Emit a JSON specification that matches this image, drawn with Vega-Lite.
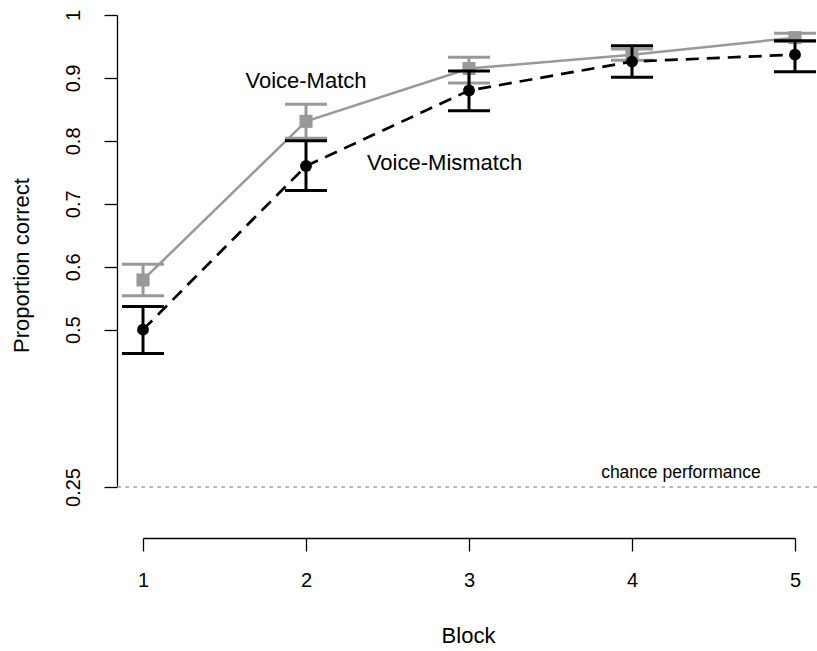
{
  "$schema": "https://vega.github.io/schema/vega-lite/v6.json",
  "width": 700,
  "height": 506,
  "autosize": {"type": "none"},
  "padding": {"left": 117, "top": 0, "right": 0, "bottom": 145},
  "background": "white",
  "config": {"view": {"stroke": null}, "font": "Liberation Sans"},
  "datasets": {
    "points": [
      {"block": 1, "cond": "Voice-Match", "mean": 0.579, "lo": 0.554, "hi": 0.604},
      {"block": 2, "cond": "Voice-Match", "mean": 0.831, "lo": 0.804, "hi": 0.858},
      {"block": 3, "cond": "Voice-Match", "mean": 0.915, "lo": 0.892, "hi": 0.933},
      {"block": 4, "cond": "Voice-Match", "mean": 0.937, "lo": 0.928, "hi": 0.946},
      {"block": 5, "cond": "Voice-Match", "mean": 0.964, "lo": 0.958, "hi": 0.971},
      {"block": 1, "cond": "Voice-Mismatch", "mean": 0.500, "lo": 0.462, "hi": 0.537},
      {"block": 2, "cond": "Voice-Mismatch", "mean": 0.760, "lo": 0.721, "hi": 0.800},
      {"block": 3, "cond": "Voice-Mismatch", "mean": 0.880, "lo": 0.848, "hi": 0.911},
      {"block": 4, "cond": "Voice-Mismatch", "mean": 0.926, "lo": 0.901, "hi": 0.951},
      {"block": 5, "cond": "Voice-Mismatch", "mean": 0.937, "lo": 0.910, "hi": 0.959}
    ],
    "labels": [
      {"x": 2, "y": 0.9, "label": "Voice-Match", "kind": "series"},
      {"x": 2.85, "y": 0.77, "label": "Voice-Mismatch", "kind": "series"},
      {"x": 4.3, "y": 0.275, "label": "chance performance", "kind": "chance"}
    ]
  },
  "data": {"name": "points"},
  "layer": [
    {
      "transform": [{"filter": "datum.cond == 'Voice-Match'"}],
      "mark": {"type": "rule", "color": "#999999", "strokeWidth": 3},
      "encoding": {
        "x": {
          "field": "block", "type": "quantitative", "title": "Block",
          "scale": {"domain": [1, 5], "range": [26, 678], "zero": false, "nice": false},
          "axis": {
            "values": [1, 2, 3, 4, 5], "format": "d", "grid": false,
            "offset": 32, "tickSize": 13, "tickWidth": 1.3, "tickColor": "black",
            "domainColor": "black", "domainWidth": 1.3,
            "labelFontSize": 20, "labelColor": "black", "labelPadding": 35,
            "labelBaseline": "alphabetic", "labelAlign": "center", "labelFont": "Liberation Sans",
            "titleFontSize": 22, "titleFontWeight": "normal", "titleColor": "black", "titleFont": "Liberation Sans",
            "titleX": 351, "titleY": 104, "titleBaseline": "alphabetic", "titleAlign": "center", "titleAnchor": null
          }
        },
        "y": {
          "field": "lo", "type": "quantitative", "title": "Proportion correct",
          "scale": {"domain": [0.25, 1], "range": [487, 15], "zero": false, "nice": false},
          "axis": {
            "values": [0.25, 0.5, 0.6, 0.7, 0.8, 0.9, 1],
            "labelExpr": "datum.value == 1 ? '1' : (datum.value == 0.25 ? '0.25' : format(datum.value, '.1f'))",
            "grid": false, "tickSize": 13, "tickWidth": 1.3, "tickColor": "black",
            "domainColor": "black", "domainWidth": 1.3,
            "labelFontSize": 20, "labelColor": "black", "labelAngle": 270, "labelPadding": 25,
            "labelBaseline": "alphabetic", "labelAlign": "center", "labelFont": "Liberation Sans",
            "titleFontSize": 22, "titleFontWeight": "normal", "titleColor": "black", "titleFont": "Liberation Sans",
            "titleAngle": 270, "titleX": -89, "titleY": 265, "titleBaseline": "alphabetic", "titleAlign": "center", "titleAnchor": null
          }
        },
        "y2": {"field": "hi"}
      }
    },
    {
      "data": {"values": [{}]},
      "mark": {"type": "rule", "color": "#b8b8b8", "strokeWidth": 2.2, "strokeDash": [3.5, 4.5]},
      "encoding": {"y": {"datum": 0.25, "type": "quantitative", "title": "Proportion correct"}}
    },
    {
      "transform": [{"filter": "datum.cond == 'Voice-Match'"}],
      "mark": {"type": "line", "color": "#999999", "strokeWidth": 2.5},
      "encoding": {
        "x": {"field": "block", "type": "quantitative", "title": "Block"},
        "y": {"field": "mean", "type": "quantitative", "title": "Proportion correct"}
      }
    },
    {
      "transform": [{"filter": "datum.cond == 'Voice-Match'"}],
      "mark": {"type": "tick", "orient": "horizontal", "color": "#999999", "size": 42, "thickness": 3, "opacity": 1},
      "encoding": {
        "x": {"field": "block", "type": "quantitative", "title": "Block"},
        "y": {"field": "lo", "type": "quantitative", "title": "Proportion correct"}
      }
    },
    {
      "transform": [{"filter": "datum.cond == 'Voice-Match'"}],
      "mark": {"type": "tick", "orient": "horizontal", "color": "#999999", "size": 42, "thickness": 3, "opacity": 1},
      "encoding": {
        "x": {"field": "block", "type": "quantitative", "title": "Block"},
        "y": {"field": "hi", "type": "quantitative", "title": "Proportion correct"}
      }
    },
    {
      "transform": [{"filter": "datum.cond == 'Voice-Match'"}],
      "mark": {"type": "point", "shape": "square", "filled": true, "color": "#999999", "size": 170, "opacity": 1},
      "encoding": {
        "x": {"field": "block", "type": "quantitative", "title": "Block"},
        "y": {"field": "mean", "type": "quantitative", "title": "Proportion correct"}
      }
    },
    {
      "transform": [{"filter": "datum.cond == 'Voice-Mismatch'"}],
      "mark": {"type": "line", "color": "black", "strokeWidth": 2.7, "strokeDash": [13, 8]},
      "encoding": {
        "x": {"field": "block", "type": "quantitative", "title": "Block"},
        "y": {"field": "mean", "type": "quantitative", "title": "Proportion correct"}
      }
    },
    {
      "transform": [{"filter": "datum.cond == 'Voice-Mismatch'"}],
      "mark": {"type": "rule", "color": "black", "strokeWidth": 3},
      "encoding": {
        "x": {"field": "block", "type": "quantitative", "title": "Block"},
        "y": {"field": "lo", "type": "quantitative", "title": "Proportion correct"},
        "y2": {"field": "hi"}
      }
    },
    {
      "transform": [{"filter": "datum.cond == 'Voice-Mismatch'"}],
      "mark": {"type": "tick", "orient": "horizontal", "color": "black", "size": 42, "thickness": 3, "opacity": 1},
      "encoding": {
        "x": {"field": "block", "type": "quantitative", "title": "Block"},
        "y": {"field": "lo", "type": "quantitative", "title": "Proportion correct"}
      }
    },
    {
      "transform": [{"filter": "datum.cond == 'Voice-Mismatch'"}],
      "mark": {"type": "tick", "orient": "horizontal", "color": "black", "size": 42, "thickness": 3, "opacity": 1},
      "encoding": {
        "x": {"field": "block", "type": "quantitative", "title": "Block"},
        "y": {"field": "hi", "type": "quantitative", "title": "Proportion correct"}
      }
    },
    {
      "transform": [{"filter": "datum.cond == 'Voice-Mismatch'"}],
      "mark": {"type": "point", "shape": "circle", "filled": true, "color": "black", "size": 140, "opacity": 1},
      "encoding": {
        "x": {"field": "block", "type": "quantitative", "title": "Block"},
        "y": {"field": "mean", "type": "quantitative", "title": "Proportion correct"}
      }
    },
    {
      "data": {"name": "labels"},
      "transform": [{"filter": "datum.kind == 'series'"}],
      "mark": {"type": "text", "fontSize": 22, "color": "black", "align": "center", "baseline": "alphabetic", "dy": 10.5, "font": "Liberation Sans"},
      "encoding": {
        "x": {"field": "x", "type": "quantitative", "title": "Block"},
        "y": {"field": "y", "type": "quantitative", "title": "Proportion correct"},
        "text": {"field": "label"}
      }
    },
    {
      "data": {"name": "labels"},
      "transform": [{"filter": "datum.kind == 'chance'"}],
      "mark": {"type": "text", "fontSize": 17.5, "color": "black", "align": "center", "baseline": "alphabetic", "dy": 6.5, "font": "Liberation Sans"},
      "encoding": {
        "x": {"field": "x", "type": "quantitative", "title": "Block"},
        "y": {"field": "y", "type": "quantitative", "title": "Proportion correct"},
        "text": {"field": "label"}
      }
    }
  ]
}
